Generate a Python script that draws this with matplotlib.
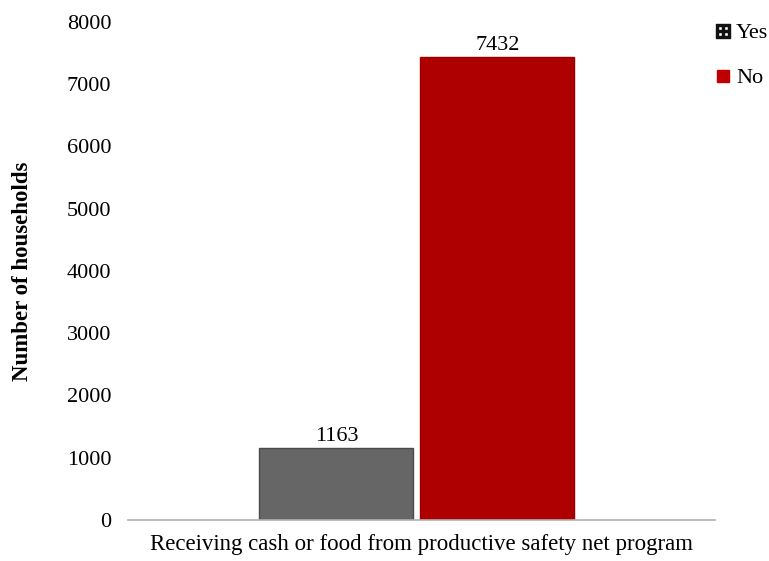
import matplotlib.pyplot as plt
from matplotlib.lines import Line2D

plt.rcParams["font.family"] = ["Liberation Serif", "DejaVu Serif"]

# data
categories = ["Yes", "No"]
values = [1163, 7432]
offsets = [-0.137, 0.137]
colors = ["#666666", "#AE0000"]
yticks = [0, 1000, 2000, 3000, 4000, 5000, 6000, 7000, 8000]

fig = plt.figure(figsize=(7.69, 5.61), dpi=100)
ax = fig.add_axes([0.1664, 0.0731, 0.7636, 0.8877])

bars = ax.bar(offsets, values, width=0.262, color=colors,
              edgecolor=["#4a4a4a", "#9a0000"], linewidth=1)
for b, v in zip(bars, values):
    ax.text(b.get_x() + b.get_width() / 2, v + 30, str(v),
            ha="center", va="bottom", fontsize=16)

ax.set_xlim(-0.492, 0.508)
ax.set_ylim(0, 8000)
ax.set_yticks(yticks)
ax.set_yticklabels([str(t) for t in yticks], fontsize=16)
ax.set_xticks([])
ax.tick_params(axis="y", length=0, pad=12)
for s in ["top", "right", "left"]:
    ax.spines[s].set_visible(False)
ax.spines["bottom"].set_color("#b0b0b0")
ax.spines["bottom"].set_linewidth(1.2)

ax.set_xlabel("Receiving cash or food from productive safety net program",
              fontsize=16.5, labelpad=10)
ax.set_ylabel("Number of households", fontsize=16.5, fontweight="bold", labelpad=24)

handles = [Line2D([], [], linestyle="none", marker="$\u229e$", color="#111111",
                  markersize=10, label="Yes"),
           Line2D([], [], linestyle="none", marker="s", color="#C00000",
                  markersize=9, label="No")]
fig.legend(handles=handles, loc="upper left", bbox_to_anchor=(0.905, 0.995),
           frameon=False, fontsize=16, handlelength=0.6,
           handletextpad=0.3, labelspacing=1.1)

fig.savefig("out.png", dpi=100)
